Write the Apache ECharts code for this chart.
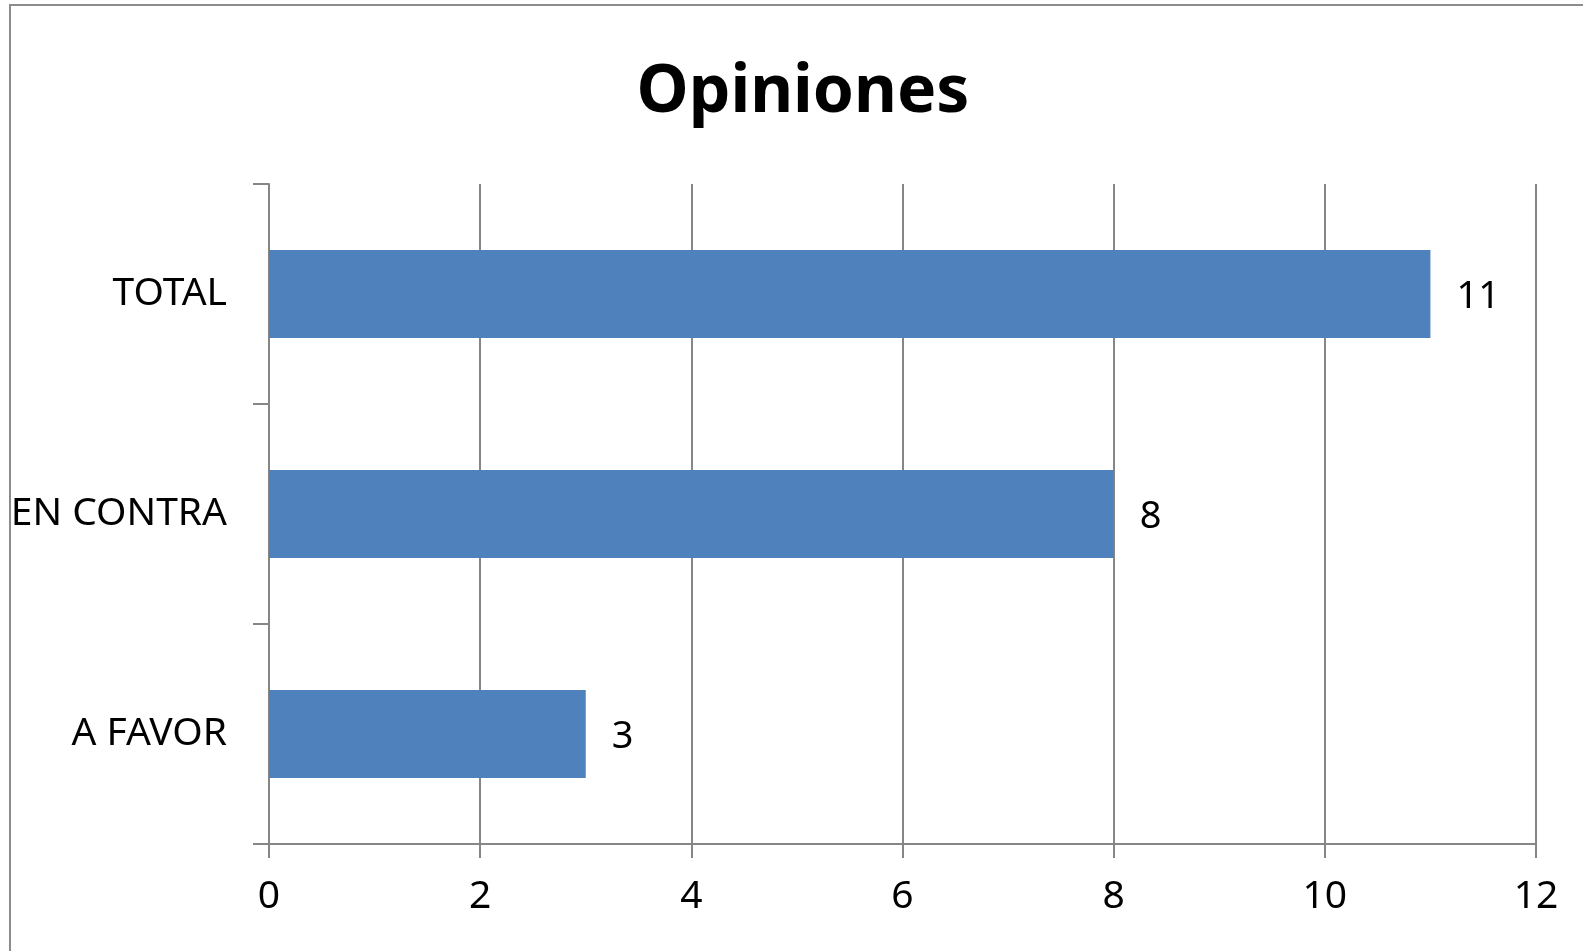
<!DOCTYPE html>
<html>
<head>
<meta charset="utf-8">
<script src="https://cdn.jsdelivr.net/npm/echarts@6/dist/echarts.min.js"></script>
<style>html,body{margin:0;padding:0;background:#fff;}#c{width:1583px;height:951px;}</style>
</head>
<body>
<div id="c"></div>
<script>
const titleText = 'Opiniones';
const categories = ['A FAVOR', 'EN CONTRA', 'TOTAL'];
const values = [3, 8, 11];
const xMin = 0, xMax = 12, xInterval = 2;

const chart = echarts.init(document.getElementById('c'));
const lineColor = '#868686';
chart.setOption({
  animation: false,
  backgroundColor: '#fff',
  title: {
    text: titleText,
    left: 798, top: 55, textAlign: 'center',
    textStyle: { fontFamily: 'Noto Sans', fontWeight: 'bold', fontSize: 66, color: '#000' }
  },
  graphic: [{
    type: 'rect', silent: true,
    shape: { x: 10, y: 5, width: 1800, height: 1200 },
    style: { fill: 'none', stroke: '#8c8c8c', lineWidth: 2 }
  }],
  grid: { left: 269, top: 184, right: 47, bottom: 107, containLabel: false },
  xAxis: {
    type: 'value', min: xMin, max: xMax, interval: xInterval,
    axisLine: { show: true, lineStyle: { color: lineColor, width: 2 } },
    axisTick: { show: true, length: 14, lineStyle: { color: lineColor, width: 2 } },
    splitLine: { show: true, lineStyle: { color: lineColor, width: 2 } },
    axisLabel: { margin: 33, fontFamily: 'Noto Sans', fontSize: 39, color: '#000' }
  },
  yAxis: {
    type: 'category', data: categories,
    axisLine: { show: true, lineStyle: { color: lineColor, width: 2 } },
    axisTick: { show: true, length: 16, lineStyle: { color: lineColor, width: 2 } },
    axisLabel: { margin: 42, fontFamily: 'Noto Sans', fontSize: 39, color: '#000' }
  },
  series: [{
    type: 'bar', data: values, barWidth: '40%',
    itemStyle: { color: '#4F81BD' },
    label: { show: true, position: 'right', distance: 26, fontFamily: 'Noto Sans', fontSize: 38, color: '#000', offset: [0, 3] }
  }]
});
</script>
</body>
</html>
